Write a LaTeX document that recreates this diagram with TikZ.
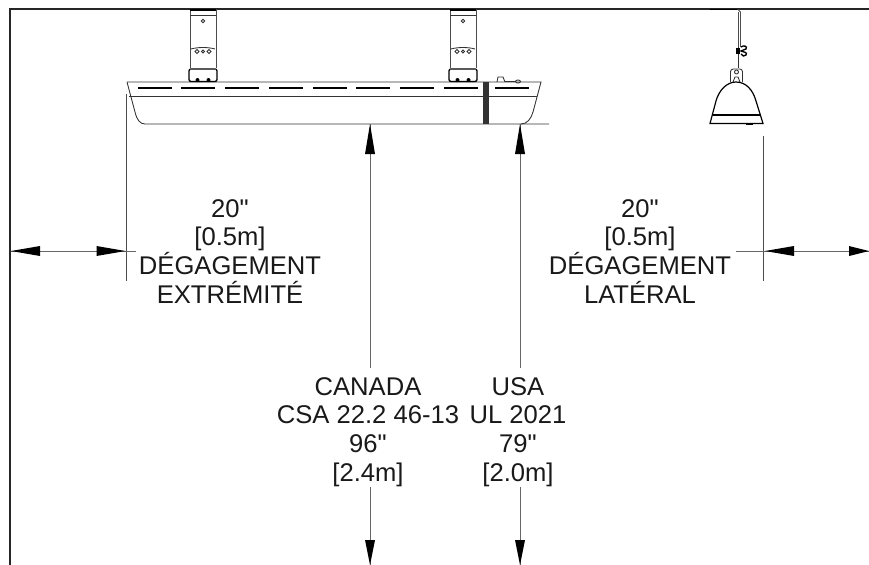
\documentclass[tikz,border=0pt]{standalone}
\usepackage{fontspec}
\newfontfamily\labfont{Liberation Sans}
\begin{document}
\begin{tikzpicture}[x=0.75pt,y=-0.75pt,
  wall/.style={line width=1pt,black!85},
  thin line/.style={line width=0.6pt,black!70},
  dim/.style={line width=0.65pt,black!60},
  part/.style={line width=0.65pt,black!80},
  heavy/.style={line width=1pt,black},
  tip/.style={fill=black,draw=none},
  label/.style={font=\labfont\fontsize{19.2pt}{21.5pt}\selectfont,align=center,text=black!90,inner sep=0pt}]
\useasboundingbox[fill=white] (0,0) rectangle (869,565);
% walls
\draw[wall] (10,565) -- (10,9) -- (869,9);
% heater body
\draw[part] (127,82) -- (541,82) -- (533,112) .. controls (531,119) and (527,124) .. (521,124);
\draw[part] (127,82) -- (135,112) .. controls (137,120) and (140,124) .. (145,124) -- (549,124);
\draw[part] (129,96) -- (483,96);
\draw[part] (489,96) -- (537,96);
\fill[black!80] (483,82) rectangle (489,124);
\foreach \a/\b in {138/172,181/215,225/259,269/303,313/347,356/390,400/434,444/478,495/529}
  \draw[line width=1pt] (\a,88) -- (\b,88);
% small parts on top of heater
\draw[part] (497,82) -- (498,77) -- (503,77) -- (505,82);
\draw[part] (505,81.5) -- (515,81.5);
\draw[part] (518,81.5) ellipse (2.5 and 1.5);
% brackets
\foreach \x in {190,450}{
  \begin{scope}[shift={(\x,0)}]
  \draw[part,black!70] (0,9) -- (0,68);
  \draw[part,black!70] (26,9) -- (26,68);
  \draw[line width=1.2pt] (0,10) -- (26,10);
  \draw[part] (0,15) -- (26,15);
  \draw[part] (13,21) circle (1.8);
  \draw[part] (1,49) .. controls (8,47) and (18,47) .. (25,49);
  \draw[part] (7,51.5) circle (1.9);
  \draw[part] (13,51.5) circle (1.5);
  \draw[part] (19,51.5) circle (1.9);
  \draw[heavy,rounded corners=1.5pt] (-1,69) rectangle (27,81.5);
  \draw[line width=1.4pt,black!65] (0,69.5) -- (26,69.5);
  \fill (7.5,80) circle (2);
  \fill (18.5,80) circle (2);
  \end{scope}}
% pendulum end view
\draw[line width=1.3pt] (710,9.6) -- (737,9.6);
\draw[part,black!70] (738,9.5) -- (740.5,12) -- (740.5,47);
\draw[part,black!70] (738.5,12) -- (738.5,47);
\draw[part] (738,47) -- (738,68);
\fill (736,48) rectangle (740,54);
\draw[line width=1pt] (741,47) .. controls (743,45) and (748,46) .. (746,49) .. controls (745,50) and (742,50) .. (741,51) .. controls (743,52) and (748,52) .. (746,55) .. controls (745,57) and (742,56) .. (741,54);
\draw[part,rounded corners=2pt] (730.5,82) -- (730.5,69) -- (742.5,69) -- (742.5,82);
\draw[part] (736.5,72) circle (2);
\draw[part] (733,82) -- (735,77) -- (738,77) -- (740,82);
\draw[line width=0.9pt] (710,123.5) -- (716,101) .. controls (719,90) and (727,82) .. (736,82)
  .. controls (746,82) and (753,90) .. (756,101) -- (763,123.5) -- cycle;
\draw[line width=0.8pt] (712.5,115) -- (760,115);
\draw[line width=1.2pt] (746,124) -- (753,124);
% named end points of the dimensions
\coordinate (wallL) at (11,251);
\coordinate (extL) at (125.5,251);
\coordinate (extLover) at (136,251);
\coordinate (extLtop) at (126,94);
\coordinate (extLbot) at (126,281);
\coordinate (extRtop) at (763,136);
\coordinate (extRbot) at (763,281);
\coordinate (extR) at (765,251);
\coordinate (extRover) at (736,251);
\coordinate (wallR) at (869,251);
\coordinate (caT) at (370,124);
\coordinate (caM) at (370,368);
\coordinate (caB) at (370,487);
\coordinate (caE) at (370,565);
\coordinate (usT) at (520,124);
\coordinate (usM) at (520,368);
\coordinate (usB) at (520,487);
\coordinate (usE) at (520,565);
\draw[thin line] (extLtop) -- (extLbot);
\draw[thin line] (extRtop) -- (extRbot);
\draw[dim] (wallL) -- (extLover);
\draw[dim] (extRover) -- (wallR);
\draw[dim] (caT) -- (caM);
\draw[dim] (caB) -- (caE);
\draw[dim] (usT) -- (usM);
\draw[dim] (usB) -- (usE);
% arrow heads
\fill[tip] (wallL) -- ++(29,-5) -- ++(0,10) -- cycle;
\fill[tip] (extL) -- ++(-29,-5) -- ++(0,10) -- cycle;
\fill[tip] (extR) -- ++(29,-5) -- ++(0,10) -- cycle;
\fill[tip] (wallR) -- ++(-20,-5) -- ++(0,10) -- cycle;
\fill[tip] (caT) -- ++(-5,30) -- ++(10,0) -- cycle;
\fill[tip] (usT) -- ++(-5,30) -- ++(10,0) -- cycle;
\fill[tip] (caE) -- ++(-5,-25) -- ++(10,0) -- cycle;
\fill[tip] (usE) -- ++(-5,-25) -- ++(10,0) -- cycle;
% labels
\node[label,anchor=north] (endL) at (230,199) {20"\\{[}0.5m{]}\\DÉGAGEMENT\\EXTRÉMITÉ};
\node[label,anchor=north] (latL) at (640,199) {20"\\{[}0.5m{]}\\DÉGAGEMENT\\LATÉRAL};
\node[label,anchor=north] (caL) at (368,377) {CANADA\\CSA 22.2 46-13\\96"\\{[}2.4m{]}};
\node[label,anchor=north] (usL) at (518,377) {USA\\UL 2021\\79"\\{[}2.0m{]}};
\end{tikzpicture}
\end{document}
